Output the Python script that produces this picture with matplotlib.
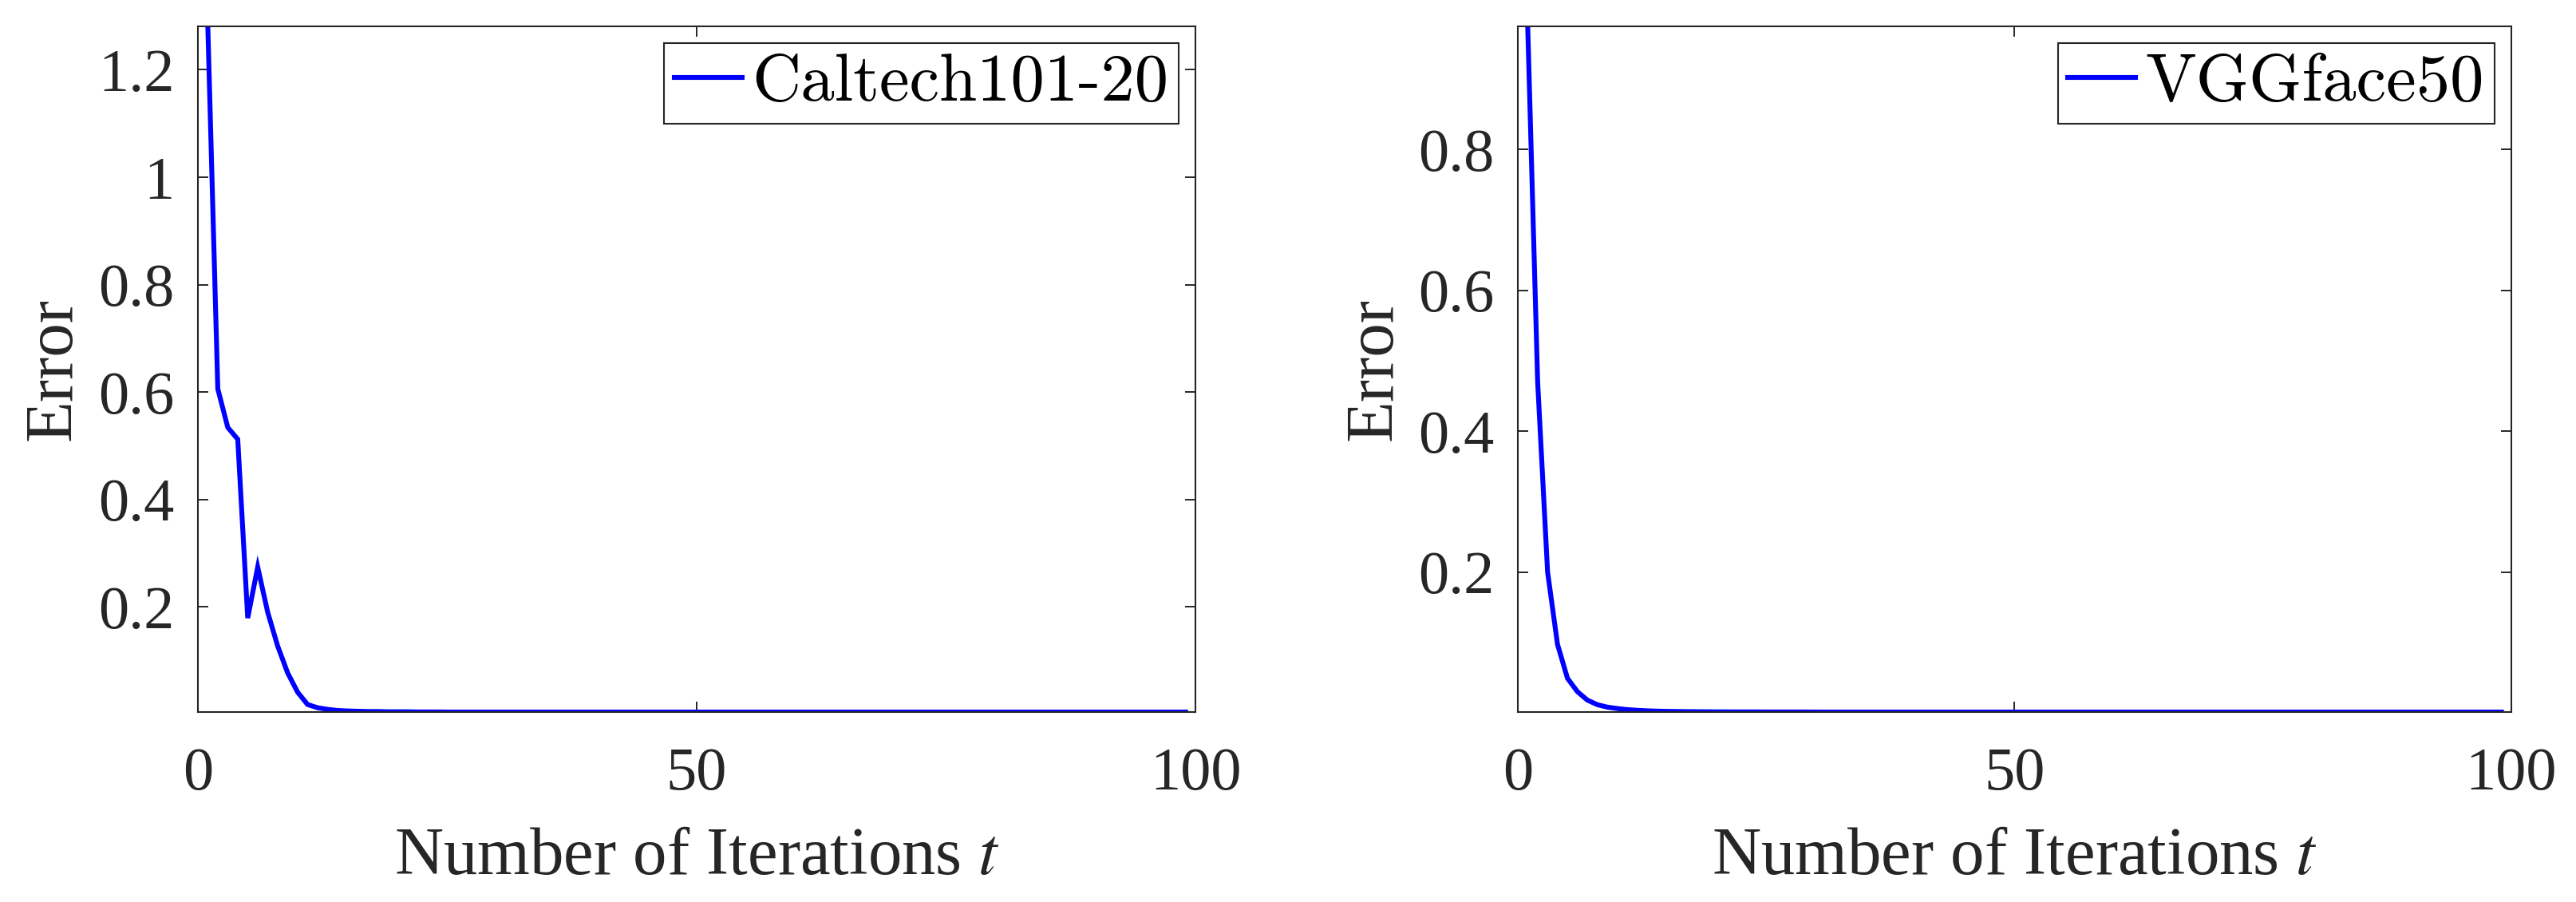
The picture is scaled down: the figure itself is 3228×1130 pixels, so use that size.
'''
Convergence curves of the error on two data sets
'''

import matplotlib
matplotlib.use('Agg')
import matplotlib.pyplot as plt

# iterations (both runs)
iters = list(range(1, 100))

# Caltech101-20 error per iteration
err_caltech = [
    1.281, 0.606, 0.534, 0.512, 0.179, 0.274, 0.190, 0.127, 0.077, 0.041,
    0.018, 0.012, 0.009, 0.007, 0.006, 0.0055, 0.005, 0.005, 0.0045, 0.0045,
    0.0045, 0.0042, 0.0042, 0.0042, 0.004, 0.004, 0.004, 0.004, 0.004, 0.004,
    0.004, 0.004, 0.004, 0.004, 0.004, 0.004, 0.004, 0.004, 0.004, 0.004,
    0.004, 0.004, 0.004, 0.004, 0.004, 0.004, 0.004, 0.004, 0.004, 0.004,
    0.004, 0.004, 0.004, 0.004, 0.004, 0.004, 0.004, 0.004, 0.004, 0.004,
    0.004, 0.004, 0.004, 0.004, 0.004, 0.004, 0.004, 0.004, 0.004, 0.004,
    0.004, 0.004, 0.004, 0.004, 0.004, 0.004, 0.004, 0.004, 0.004, 0.004,
    0.004, 0.004, 0.004, 0.004, 0.004, 0.004, 0.004, 0.004, 0.004, 0.004,
    0.004, 0.004, 0.004, 0.004, 0.004, 0.004, 0.004, 0.004, 0.004,
]

# VGGface50 error per iteration
err_vgg = [
    0.975, 0.470, 0.200, 0.097, 0.049, 0.030, 0.018, 0.0115, 0.008, 0.006,
    0.0045, 0.0035, 0.0028, 0.0023, 0.002, 0.0018, 0.0016, 0.0015, 0.0014, 0.0013,
    0.0013, 0.0012, 0.0012, 0.0012, 0.0011, 0.0011, 0.0011, 0.0011, 0.0011, 0.001,
    0.001, 0.001, 0.001, 0.001, 0.001, 0.001, 0.001, 0.001, 0.001, 0.001,
    0.001, 0.001, 0.001, 0.001, 0.001, 0.001, 0.001, 0.001, 0.001, 0.001,
    0.001, 0.001, 0.001, 0.001, 0.001, 0.001, 0.001, 0.001, 0.001, 0.001,
    0.001, 0.001, 0.001, 0.001, 0.001, 0.001, 0.001, 0.001, 0.001, 0.001,
    0.001, 0.001, 0.001, 0.001, 0.001, 0.001, 0.001, 0.001, 0.001, 0.001,
    0.001, 0.001, 0.001, 0.001, 0.001, 0.001, 0.001, 0.001, 0.001, 0.001,
    0.001, 0.001, 0.001, 0.001, 0.001, 0.001, 0.001, 0.001, 0.001,
]

names = ['Caltech101-20', 'VGGface50']
xticks = [0, 50, 100]
yticks_caltech = [0.2, 0.4, 0.6, 0.8, 1.0, 1.2]
ylabels_caltech = ['0.2', '0.4', '0.6', '0.8', '1', '1.2']
yticks_vgg = [0.2, 0.4, 0.6, 0.8]
ylabels_vgg = ['0.2', '0.4', '0.6', '0.8']

AX_COLOR = '#262626'

plt.rcParams['font.family'] = ['Liberation Serif', 'DejaVu Serif']
plt.rcParams['mathtext.fontset'] = 'stix'

fig = plt.figure(figsize=(32.28, 11.30), dpi=100)
ax1 = fig.add_axes([0.0768, 0.2106, 0.3873, 0.7602])
ax2 = fig.add_axes([0.5892, 0.2106, 0.3857, 0.7602])

panels = [
    (ax1, err_caltech, names[0], yticks_caltech, ylabels_caltech),
    (ax2, err_vgg, names[1], yticks_vgg, ylabels_vgg),
]

for ax, err, name, yt, yl in panels:
    ax.plot(iters, err, color='#0000ff', lw=4.4, label=name, solid_joinstyle='miter')
    ax.set_xlim(0, 100)
    ax.set_ylim(min(err), max(err))  # axis tight
    ax.set_xticks(xticks)
    ax.set_xticklabels([str(v) for v in xticks])
    ax.set_yticks(yt)
    ax.set_yticklabels(yl)
    ax.minorticks_off()
    ax.tick_params(direction='in', length=9.5, width=1.4, color=AX_COLOR,
                   labelcolor=AX_COLOR, labelsize=55, top=True, right=True)
    ax.tick_params(axis='x', pad=32)
    ax.tick_params(axis='y', pad=21)
    for s in ax.spines.values():
        s.set_color(AX_COLOR)
        s.set_linewidth(1.5)
    ax.set_xlabel(r'Number of Iterations $t$', fontsize=61, color=AX_COLOR)
    ax.xaxis.set_label_coords(0.5, -0.168)
    ax.set_ylabel('Error', fontsize=61, color=AX_COLOR)
    ax.yaxis.set_label_coords(-0.113, 0.5)
    leg = ax.legend(loc='upper right', prop={'family': 'cmr10', 'size': 61},
                    handlelength=1.0, handletextpad=0.15, borderpad=0.15,
                    borderaxespad=0.25, fancybox=False, framealpha=1)
    leg.get_frame().set_edgecolor(AX_COLOR)
    leg.get_frame().set_linewidth(1.5)

fig.savefig('out.png', dpi=100)
